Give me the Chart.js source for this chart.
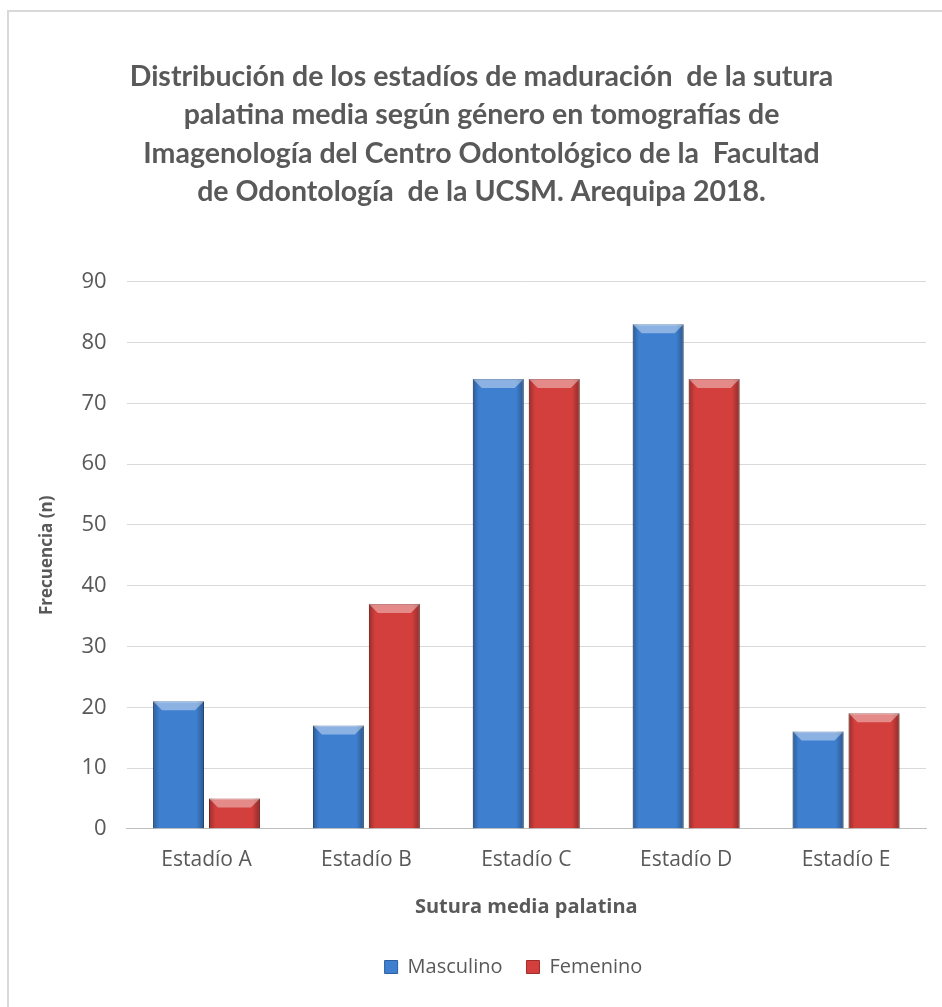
<!DOCTYPE html>
<html>
<head>
<meta charset="utf-8">
<script src="https://cdn.jsdelivr.net/npm/chart.js@4.4.1/dist/chart.umd.min.js"></script>
<style>
  body { margin: 0; background: #fff; }
  #frame { position: absolute; left: 7px; top: 10px; width: 960px; height: 1010px; border: 2px solid #d9d9d9; box-sizing: border-box; }
  #wrap { position: absolute; left: 0; top: 0; width: 942px; height: 1007px; }
</style>
</head>
<body>
<div id="frame"></div>
<div id="wrap"><canvas id="grafico"></canvas></div>
<script>
// datos
const estadios = ['Estadío A', 'Estadío B', 'Estadío C', 'Estadío D', 'Estadío E'];
const masculino = [21, 17, 74, 83, 16];
const femenino = [5, 37, 74, 74, 19];
const tituloLineas = [
    'Distribución de los estadíos de maduración  de la sutura',
    'palatina media según género en tomografías de',
    'Imagenología del Centro Odontológico de la  Facultad',
    'de Odontología  de la UCSM. Arequipa 2018.'
];

const gris = '#595959';

// bisel sencillo encima de cada barra
const biselPlugin = {
    id: 'bisel',
    afterLayout(chart) {
        // la leyenda del original está algo desplazada a la derecha
        if (chart.legend) {
            chart.legend.left += 32;
            chart.legend.right += 32;
        }
    },
    afterDatasetsDraw(chart) {
        const ctx = chart.ctx;
        chart.data.datasets.forEach((ds, i) => {
            const meta = chart.getDatasetMeta(i);
            meta.data.forEach(bar => {
                const w = bar.width;
                const left = bar.x - w / 2;
                const right = bar.x + w / 2;
                const top = bar.y;
                const bottom = bar.base;
                const b = Math.min(9, (bottom - top) / 2);
                ctx.save();
                // lados oscuros
                let g = ctx.createLinearGradient(left, 0, right, 0);
                g.addColorStop(0, 'rgba(0,0,0,0.28)');
                g.addColorStop(0.12, 'rgba(0,0,0,0)');
                g.addColorStop(0.85, 'rgba(0,0,0,0)');
                g.addColorStop(1, 'rgba(0,0,0,0.32)');
                ctx.fillStyle = g;
                ctx.fillRect(left, top, w, bottom - top);
                // franja superior clara
                ctx.beginPath();
                ctx.moveTo(left, top);
                ctx.lineTo(right, top);
                ctx.lineTo(right - b, top + b);
                ctx.lineTo(left + b, top + b);
                ctx.closePath();
                ctx.fillStyle = 'rgba(255,255,255,0.4)';
                ctx.fill();
                ctx.restore();
            });
        });
    }
};

new Chart(document.getElementById('grafico').getContext('2d'), {
    type: 'bar',
    data: {
        labels: estadios,
        datasets: [{
            label: 'Masculino',
            data: masculino,
            backgroundColor: '#3f7fcf',
            borderColor: '#2c5f9f',
            borderWidth: 1
        }, {
            label: 'Femenino',
            data: femenino,
            backgroundColor: '#d23f3c',
            borderColor: '#9e2d2a',
            borderWidth: 1
        }]
    },
    options: {
        responsive: true,
        maintainAspectRatio: false,
        animation: false,
        categoryPercentage: 0.7,
        barPercentage: 0.91,
        layout: { padding: { left: 37, right: 16, top: 58, bottom: 20 } },
        plugins: {
            title: {
                display: true,
                text: tituloLineas,
                color: gris,
                font: { family: 'Lato', size: 28.5, weight: 'bold', lineHeight: 1.34 },
                padding: { top: 0, bottom: 71 }
            },
            legend: {
                display: true,
                position: 'bottom',
                labels: {
                    color: gris,
                    font: { family: 'Open Sans', size: 20 },
                    boxWidth: 13,
                    boxHeight: 13,
                    padding: 24
                }
            },
            tooltip: { enabled: false }
        },
        scales: {
            x: {
                grid: { display: false, drawTicks: false },
                border: { color: '#bfbfbf' },
                ticks: { color: gris, font: { family: 'Open Sans', size: 21 }, padding: 19 },
                title: {
                    display: true,
                    text: 'Sutura media palatina',
                    color: gris,
                    font: { family: 'Open Sans', size: 20, weight: 'bold' },
                    padding: { top: 3, bottom: 14 }
                }
            },
            y: {
                min: 0,
                max: 90,
                ticks: { stepSize: 10, color: gris, font: { family: 'Open Sans', size: 22 }, padding: 20 },
                grid: { color: '#d9d9d9', drawTicks: false },
                border: { display: false },
                title: {
                    display: true,
                    text: 'Frecuencia (n)',
                    color: gris,
                    font: { family: 'Open Sans', size: 17, weight: 'bold' },
                    padding: { top: 0, bottom: 4 }
                }
            }
        }
    },
    plugins: [biselPlugin]
});
</script>
</body>
</html>
